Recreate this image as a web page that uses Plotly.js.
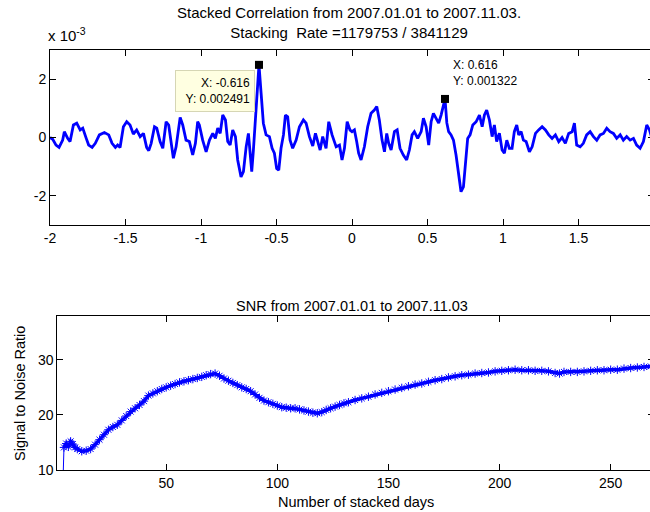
<!DOCTYPE html>
<html>
<head>
<meta charset="utf-8">
<script src="https://cdn.plot.ly/plotly-3.0.1.min.js"></script>
<style>html,body{margin:0;padding:0;overflow:hidden;background:#fff;}</style>
</head>
<body>
<div id="chart"></div>
<script>
// ---- Stacked correlation (values in units of 1e-3) ----
const lagX = [-2.0,-1.982,-1.96,-1.94,-1.916,-1.905,-1.883,-1.867,-1.845,-1.823,-1.80,-1.783,-1.76,-1.744,-1.721,-1.70,-1.673,-1.64,-1.611,-1.589,-1.567,-1.552,-1.536,-1.514,-1.492,-1.47,-1.448,-1.426,-1.403,-1.381,-1.36,-1.346,-1.33,-1.308,-1.293,-1.271,-1.253,-1.231,-1.214,-1.198,-1.183,-1.165,-1.138,-1.121,-1.099,-1.077,-1.055,-1.037,-1.022,-1.011,-0.989,-0.966,-0.944,-0.922,-0.905,-0.889,-0.873,-0.856,-0.838,-0.823,-0.807,-0.79,-0.772,-0.757,-0.735,-0.719,-0.701,-0.686,-0.675,-0.664,-0.653,-0.64,-0.628,-0.616,-0.602,-0.587,-0.569,-0.547,-0.529,-0.514,-0.499,-0.485,-0.47,-0.454,-0.441,-0.426,-0.41,-0.393,-0.37,-0.348,-0.322,-0.304,-0.282,-0.26,-0.242,-0.227,-0.211,-0.194,-0.172,-0.154,-0.132,-0.105,-0.083,-0.066,-0.05,-0.032,-0.013,0.0,0.016,0.031,0.044,0.06,0.082,0.104,0.126,0.148,0.164,0.181,0.199,0.215,0.23,0.243,0.259,0.281,0.299,0.318,0.34,0.362,0.38,0.398,0.413,0.435,0.458,0.473,0.491,0.508,0.524,0.539,0.557,0.574,0.59,0.603,0.616,0.628,0.64,0.656,0.672,0.689,0.707,0.722,0.738,0.751,0.766,0.782,0.80,0.822,0.844,0.862,0.877,0.892,0.91,0.928,0.943,0.958,0.976,0.994,1.009,1.025,1.042,1.06,1.075,1.091,1.104,1.12,1.135,1.153,1.175,1.193,1.215,1.236,1.259,1.281,1.303,1.325,1.347,1.369,1.391,1.413,1.435,1.458,1.473,1.488,1.511,1.532,1.554,1.577,1.599,1.621,1.643,1.665,1.687,1.709,1.731,1.753,1.776,1.797,1.819,1.842,1.864,1.885,1.908,1.93,1.952,1.97,1.983,2.0];
const corrY = [0.0,-0.06,-0.26,-0.34,-0.09,0.2,-0.03,-0.14,0.43,0.49,0.26,0.32,-0.03,-0.26,-0.34,-0.2,0.09,0.17,0.09,-0.2,-0.34,-0.26,-0.34,0.37,0.54,0.43,0.12,0.26,0.03,0.14,-0.34,-0.45,-0.2,0.37,0.32,-0.14,-0.37,0.54,0.43,-0.09,-0.71,-0.32,0.69,0.43,-0.09,-0.14,-0.6,-0.2,0.54,0.43,-0.09,-0.49,-0.09,0.14,-0.03,0.32,0.14,0.77,0.6,-0.14,-0.26,0.26,0.03,-0.77,-1.35,-1.17,-0.32,0.14,-0.66,-1.17,-0.43,0.6,1.9,2.491,1.52,0.49,0.09,0.03,-0.37,-0.54,-1.06,-1.12,-0.37,0.09,0.77,0.71,-0.09,-0.37,-0.09,0.37,0.6,0.49,0.03,-0.29,0.14,-0.14,-0.43,0.03,-0.37,0.54,0.09,-0.32,-0.26,-0.77,-0.37,0.54,0.25,0.2,0.26,-0.14,-0.54,-0.77,-0.32,0.37,0.83,0.94,1.06,0.6,-0.09,-0.49,0.14,-0.2,-0.43,0.2,0.26,-0.37,-0.6,-0.77,-0.43,0.09,0.2,-0.03,0.2,0.66,0.37,-0.26,0.54,0.83,0.66,0.49,0.77,1.0,1.322,0.5,0.2,0.09,-0.09,-0.6,-1.35,-1.86,-1.69,-0.77,-0.03,0.09,0.43,0.54,0.77,0.37,0.77,0.94,0.6,0.03,0.43,-0.14,0.15,-0.43,-0.54,-0.09,-0.37,-0.37,0.2,0.43,0.09,0.2,-0.09,-0.14,-0.49,-0.32,0.14,0.26,0.37,0.26,0.09,-0.03,0.09,-0.14,0.0,-0.2,0.14,0.2,0.49,-0.26,-0.32,-0.2,0.09,0.2,0.03,-0.09,0.09,0.14,0.32,0.2,0.14,-0.03,0.09,-0.09,0.03,-0.09,-0.03,-0.26,-0.37,-0.14,0.43,0.26,0.03,0.0];

// data tips
const tipX = [-0.616, 0.616];
const tipY = [2.491, 1.322];

// ---- SNR vs number of stacked days ----
const snrDays = [3,4,5,6,7,8,9,10,12,14,16,18,20,22,24,26,28,30,32,34,36,38,40,42,44,46,48,50,52,54,56,58,60,62,64,66,68,70,72,74,76,78,80,82,84,86,88,90,92,94,96,98,100,102,104,106,108,110,112,114,116,118,120,122,124,126,128,130,132,135,138,141,144,147,150,153,156,159,162,165,168,171,174,177,180,183,186,189,192,195,198,201,204,207,210,213,216,219,222,225,227,229,232,235,238,241,244,247,250,253,256,259,262,265,268,271];
const snrVals = [0,14.1,14.8,14.2,15.2,14.7,14.1,13.8,13.4,13.5,13.8,14.6,15.5,16.4,17.3,17.8,18.2,19.0,19.8,20.6,21.2,21.8,22.5,23.5,23.9,24.3,24.7,25.0,25.3,25.6,25.9,26.1,26.3,26.5,26.7,26.9,27.2,27.4,27.5,27.1,26.6,26.2,25.8,25.4,25.0,24.7,24.3,23.7,23.1,22.6,22.3,22.0,21.7,21.4,21.3,21.2,21.2,21.0,20.8,20.6,20.4,20.3,20.5,20.9,21.2,21.5,21.8,22.1,22.3,22.7,23.0,23.3,23.7,24.0,24.3,24.6,24.9,25.2,25.5,25.7,26.0,26.3,26.5,26.8,27.0,27.2,27.3,27.5,27.6,27.7,27.9,28.0,28.1,28.2,28.1,28.1,28.0,28.0,27.9,27.6,27.5,27.8,27.8,27.8,27.9,28.0,28.1,28.1,28.2,28.2,28.4,28.5,28.6,28.7,28.8,28.9];

// tick labels
const lagTicks = [-2,-1.5,-1,-0.5,0,0.5,1,1.5,2];
const lagTickText = ['-2','-1.5','-1','-0.5','0','0.5','1','1.5','2'];
const corrTicks = [-2,0,2];
const corrTickText = ['-2','0','2'];
const dayTicks = [50,100,150,200,250];
const snrTicks = [10,20,30];

const W = 660, H = 512;
const fx = px => px / W;
const fy = py => 1 - py / H;
const FONT = 'Liberation Sans, Arial, sans-serif';
const BLUE = '#0000ff';

const axBase = {
  showline: true, linecolor: '#000', linewidth: 1, mirror: 'allticks',
  ticks: 'inside', ticklen: 6, tickcolor: '#000', tickwidth: 1,
  showgrid: false, zeroline: false, fixedrange: true,
  tickfont: {family: FONT, size: 14, color: '#000'}
};

const traces = [
  {x: lagX, y: corrY, xaxis: 'x', yaxis: 'y', mode: 'lines',
   line: {color: BLUE, width: 2.8}, hoverinfo: 'skip'},
  {x: tipX, y: tipY, xaxis: 'x', yaxis: 'y', mode: 'markers',
   marker: {symbol: 'square', size: 8, color: '#000'}, hoverinfo: 'skip'},
  {x: snrDays, y: snrVals, xaxis: 'x2', yaxis: 'y2', mode: 'lines',
   line: {color: BLUE, width: 1}, hoverinfo: 'skip'},
  {x: snrDays.slice(1), y: snrVals.slice(1), xaxis: 'x2', yaxis: 'y2', mode: 'lines+markers',
   line: {color: BLUE, width: 3.5},
   marker: {symbol: 'asterisk-open', size: 7, color: BLUE, line: {color: BLUE, width: 1}},
   hoverinfo: 'skip'}
];

const layout = {
  width: W, height: H, autosize: false, showlegend: false,
  margin: {l: 0, r: 0, t: 0, b: 0},
  paper_bgcolor: '#fff', plot_bgcolor: '#fff',
  font: {family: FONT, size: 14, color: '#000'},
  xaxis: Object.assign({}, axBase, {domain: [fx(50), fx(654)], range: [-2, 2], anchor: 'y',
    tickvals: lagTicks, ticktext: lagTickText}),
  yaxis: Object.assign({}, axBase, {domain: [fy(225), fy(50)], range: [-3, 3], anchor: 'x',
    tickvals: corrTicks, ticktext: corrTickText}),
  xaxis2: Object.assign({}, axBase, {domain: [fx(57.3), fx(654)], range: [1, 269.5], anchor: 'y2',
    tickvals: dayTicks, ticktext: dayTicks.map(String)}),
  yaxis2: Object.assign({}, axBase, {domain: [fy(470), fy(315.7)], range: [10, 38], anchor: 'x2',
    tickvals: snrTicks, ticktext: snrTicks.map(String)}),
  annotations: [
    {xref: 'paper', yref: 'paper', x: fx(349), y: fy(22.5), xanchor: 'center', yanchor: 'middle',
     showarrow: false, text: 'Stacked Correlation from 2007.01.01 to 2007.11.03.<br>Stacking  Rate =1179753 / 3841129',
     font: {family: FONT, size: 15}},
    {xref: 'paper', yref: 'paper', x: fx(46), y: fy(34), xanchor: 'left', yanchor: 'middle',
     showarrow: false, text: 'x 10<sup>-3</sup>', font: {family: FONT, size: 15}},
    {xref: 'paper', yref: 'paper', x: fx(352), y: fy(306), xanchor: 'center', yanchor: 'middle',
     showarrow: false, text: 'SNR from 2007.01.01 to 2007.11.03', font: {family: FONT, size: 14.5}},
    {xref: 'paper', yref: 'paper', x: fx(356), y: fy(502), xanchor: 'center', yanchor: 'middle',
     showarrow: false, text: 'Number of stacked days', font: {family: FONT, size: 14.5}},
    {xref: 'paper', yref: 'paper', x: fx(20), y: fy(394), xanchor: 'center', yanchor: 'middle',
     showarrow: false, textangle: -90, text: 'Signal to Noise Ratio', font: {family: FONT, size: 14.5}},
    {xref: 'x', yref: 'y', x: tipX[0], y: tipY[0], xanchor: 'right', yanchor: 'top',
     xshift: -4, yshift: -5, showarrow: false, align: 'right', width: 70, height: 32,
     text: 'X: ' + tipX[0].toFixed(3) + '<br>Y: ' + (tipY[0] * 1e-3).toFixed(6),
     bgcolor: '#ffffe1', bordercolor: '#d6d6b4', borderwidth: 1, borderpad: 4,
     font: {family: FONT, size: 12, color: '#000'}},
    {xref: 'x', yref: 'y', x: tipX[1], y: tipY[1], xanchor: 'left', yanchor: 'bottom',
     xshift: 6, yshift: 9, showarrow: false, align: 'left',
     text: 'X: ' + tipX[1].toFixed(3) + '<br>Y: ' + (tipY[1] * 1e-3).toFixed(6),
     font: {family: FONT, size: 12, color: '#000'}}
  ]
};

Plotly.newPlot('chart', traces, layout, {staticPlot: true, displayModeBar: false});
</script>
</body>
</html>
